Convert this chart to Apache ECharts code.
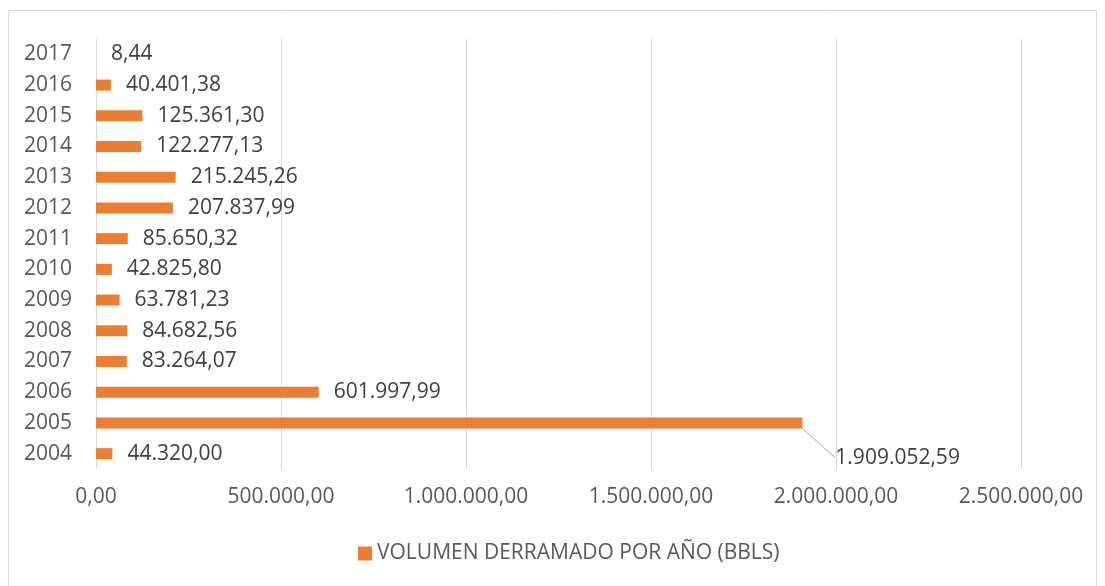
<!DOCTYPE html>
<html>
<head>
<meta charset="utf-8">
<script src="https://cdn.jsdelivr.net/npm/echarts@6/dist/echarts.min.js"></script>
<style>
  html, body { margin: 0; padding: 0; background: #fff; }
  #main { width: 1105px; height: 586px; }
</style>
</head>
<body>
<div id="main"></div>
<script>
var years = ['2004','2005','2006','2007','2008','2009','2010','2011','2012','2013','2014','2015','2016','2017'];
var volumen = [44320.00, 1909052.59, 601997.99, 83264.07, 84682.56, 63781.23, 42825.80, 85650.32, 207837.99, 215245.26, 122277.13, 125361.30, 40401.38, 8.44];
var serieNombre = 'VOLUMEN DERRAMADO POR AÑO (BBLS)';

// 1234567.8 -> 1.234.567,80
function fmt(v) {
  var parts = Number(v).toFixed(2).split('.');
  var ent = parts[0].replace(/\B(?=(\d{3})+(?!\d))/g, '.');
  return ent + ',' + parts[1];
}

var font = 'Open Sans';
var gris = '#595959';

// solo la barra de 2005 lleva linea guia hacia su etiqueta
var datos = volumen.map(function (v, i) {
  if (i === 1) {
    return { value: v, labelLine: { show: true } };
  }
  return v;
});

var myChart = echarts.init(document.getElementById('main'));
var option = {
  animation: false,
  textStyle: { fontFamily: font },
  graphic: [{
    type: 'rect',
    shape: { x: 8.5, y: 10.5, width: 1088, height: 590 },
    style: { fill: 'none', stroke: '#d9d9d9', lineWidth: 1 }
  }],
  grid: { left: 96, right: 84, top: 39, bottom: 117 },
  legend: {
    data: [serieNombre],
    top: 538,
    left: 353,
    icon: 'rect',
    itemWidth: 14,
    itemHeight: 14,
    itemGap: 5,
    textStyle: { color: gris, fontSize: 21, fontFamily: font }
  },
  xAxis: {
    type: 'value',
    min: 0,
    max: 2500000,
    interval: 500000,
    axisLine: { show: false },
    axisTick: { show: false },
    splitLine: { lineStyle: { color: '#d9d9d9', width: 1 } },
    axisLabel: { color: gris, fontSize: 21, margin: 18, formatter: fmt }
  },
  yAxis: {
    type: 'category',
    data: years,
    axisLine: { show: false },
    axisTick: { show: false },
    axisLabel: { color: gris, fontSize: 21, margin: 24 }
  },
  series: [{
    name: serieNombre,
    type: 'bar',
    data: datos,
    barWidth: 11,
    itemStyle: { color: '#ED7D31' },
    label: {
      show: true,
      position: 'right',
      distance: 15,
      color: '#404040',
      fontSize: 21,
      formatter: function (p) { return fmt(p.value); }
    },
    labelLine: { show: false, lineStyle: { color: '#a6a6a6', width: 1 } },
    labelLayout: function (p) {
      if (p.dataIndex === 1) {
        return { dx: 18, dy: 35 };
      }
      return {};
    }
  }]
};
myChart.setOption(option);
</script>
</body>
</html>
